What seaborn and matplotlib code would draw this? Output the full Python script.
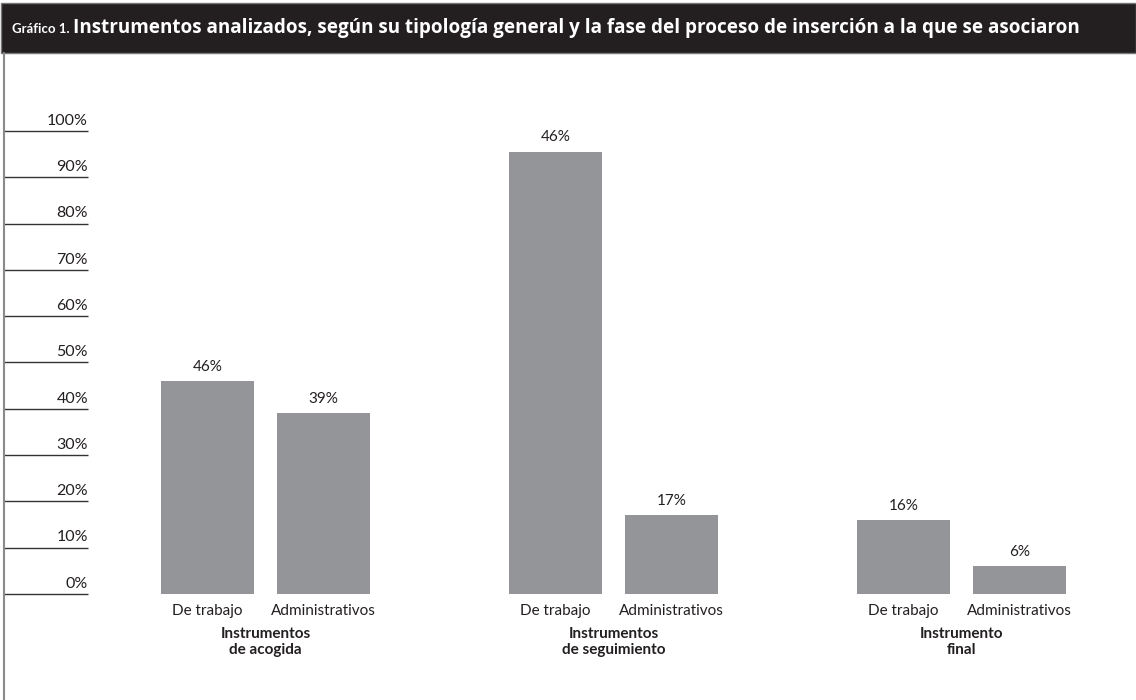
import matplotlib
matplotlib.use("Agg")
import matplotlib.pyplot as plt
import seaborn as sns
import pandas as pd
from matplotlib.patches import Rectangle
from matplotlib.lines import Line2D

# datos
grupos = ["Instrumentos\nde acogida", "Instrumentos\nde seguimiento", "Instrumento\nfinal"]
tipos = ["De trabajo", "Administrativos"]
grupo_barra = [0, 0, 1, 1, 2, 2]
valores = [46, 39, 95.5, 17, 16, 6]
etiquetas = ["46%", "39%", "46%", "17%", "16%", "6%"]
ticks_y = [0, 10, 20, 30, 40, 50, 60, 70, 80, 90, 100]

titulo_a = "Gráfico 1."
titulo_b = "Instrumentos analizados, según su tipología general y la fase del proceso de inserción a la que se asociaron"

df = pd.DataFrame({
    "grupo": [grupos[g] for g in grupo_barra],
    "tipo": [tipos[i % 2] for i in range(len(valores))],
    "valor": valores,
    "etiqueta": etiquetas,
})
df["clave"] = df["grupo"] + "|" + df["tipo"]

# orden de categorias con huecos entre grupos
orden = []
for i, g in enumerate(grupos):
    orden += [g + "|" + t for t in tipos]
    if i < len(grupos) - 1:
        orden.append(" " * (i + 1))

sns.set_style("white")
plt.rcParams['font.family'] = ['Lato', 'DejaVu Sans']
oscuro = "#231f20"

W, H = 1136, 700
fig = plt.figure(figsize=(W / 100, H / 100), dpi=100)
ax = fig.add_axes([4 / W, (H - 594) / H, (W - 4) / W, (594 - 131) / H])

sns.barplot(data=df, x="clave", y="valor", order=orden, color="#939598",
            saturation=1, width=0.80, errorbar=None, linewidth=0, ax=ax)

ax.set_ylim(0, 100)
ax.set_xlim(-1.754, 8.004)
ax.set_xlabel("")
ax.set_ylabel("")
ax.set_yticks([])
sns.despine(ax=ax, left=True, bottom=True)

pos = [orden.index(k) for k in df["clave"]]
ax.set_xticks(pos, labels=df["tipo"])
ax.tick_params(axis="x", length=0, pad=7.5, labelsize=11, labelcolor=oscuro)

# eje y dibujado a mano: rayas bajo cada etiqueta
xfin = (88 - 4) / (W - 4)
ax.hlines(ticks_y, 0, xfin, transform=ax.get_yaxis_transform(),
          color="#333333", lw=1, clip_on=False)
for v in ticks_y:
    ax.annotate(f"{v}%", xy=(xfin, v), xycoords=ax.get_yaxis_transform(),
                xytext=(0, 4.5), textcoords="offset points",
                ha="right", va="baseline", fontsize=11.5, color=oscuro)

# etiquetas de valor sobre las barras
for p in ax.patches:
    k = orden[int(round(p.get_x() + p.get_width() / 2))]
    txt = df.loc[df["clave"] == k, "etiqueta"].iloc[0]
    ax.annotate(txt, xy=(p.get_x() + p.get_width() / 2, p.get_height()),
                xytext=(0, 7.5), textcoords="offset points",
                ha="center", va="baseline", fontsize=11, color=oscuro)

# nombres de grupo
for i, g in enumerate(grupos):
    xs = [orden.index(g + "|" + t) for t in tipos]
    ax.annotate(g, xy=(sum(xs) / len(xs), 0), xycoords=("data", "axes fraction"),
                xytext=(0, -24), textcoords="offset points",
                ha="center", va="top", fontsize=11, fontweight="bold",
                color=oscuro, linespacing=1.15, multialignment="center")

# marco y barra de titulo
fig.add_artist(Rectangle((1 / W, (H - 53) / H), (W - 1) / W, 50 / H,
                         transform=fig.transFigure, facecolor=oscuro,
                         edgecolor="#777777", lw=1))
fig.add_artist(Line2D([4 / W, 4 / W], [0, (H - 53) / H], transform=fig.transFigure,
                      color="#8a8a8a", lw=1.5))

t1 = fig.text(12 / W, (H - 33) / H, titulo_a, color="white", fontsize=9.5,
              fontweight="bold", va="baseline")
fig.canvas.draw()
bb = t1.get_window_extent(fig.canvas.get_renderer())
fig.text((bb.x1 + 3) / W, (H - 33) / H, titulo_b, color="white", fontsize=13.6,
         fontweight="bold", va="baseline", family=["Open Sans", "Lato", "DejaVu Sans"])

fig.savefig("out.png", dpi=100)
